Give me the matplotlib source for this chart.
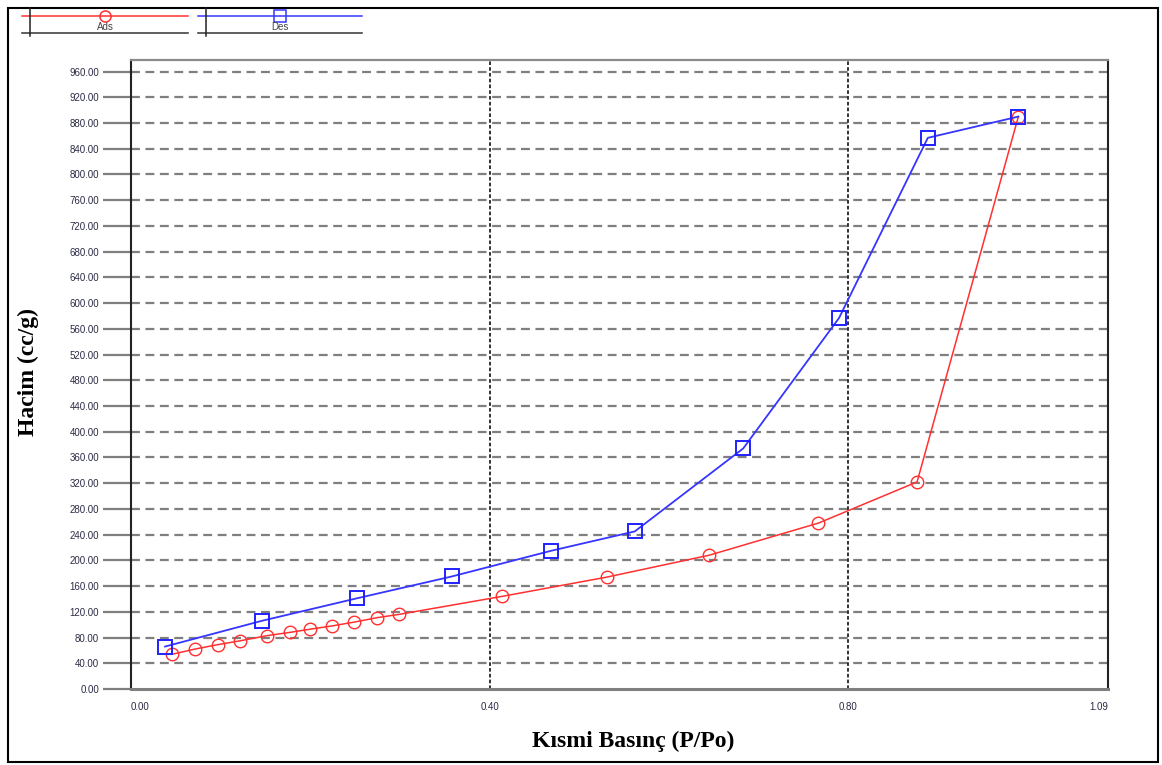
import matplotlib
matplotlib.use("Agg")
import matplotlib.pyplot as plt
from matplotlib.patches import Rectangle
from matplotlib.lines import Line2D

# adsorption branch (red circles)
ads_p = [0.046, 0.071, 0.097, 0.122, 0.152, 0.177, 0.200, 0.224, 0.249, 0.275, 0.299,
         0.414, 0.531, 0.645, 0.767, 0.877, 0.990]
ads_v = [54, 62, 69, 75, 83, 88, 93, 98, 104, 111, 116,
         144, 174, 208, 258, 322, 890]

# desorption branch (blue squares)
des_p = [0.038, 0.146, 0.252, 0.358, 0.469, 0.562, 0.683, 0.790, 0.889, 0.990]
des_v = [66, 106, 141, 175, 215, 245, 374, 577, 857, 890]

y_ticks = list(range(0, 961, 40))
x_ticks = [0.0, 0.40, 0.80, 1.09]
x_tick_labels = ["0.00", "0.40", "0.80", "1.09"]

W, H = 1162, 765
fig = plt.figure(figsize=(W / 100, H / 100), dpi=100)
ax = fig.add_axes([131 / W, 1 - 689 / H, (1108 - 131) / W, (689 - 60) / H])

ax.set_xlim(0, 1.09)
ax.set_ylim(0, 978)

# grid
for v in y_ticks[1:]:
    ax.axhline(v, color="#7f7f7f", lw=1.6, ls=(0, (4, 2.5)), zorder=1)
for p in [0.40, 0.80]:
    ax.axvline(p, color="#222222", lw=1.3, ls=(0, (2, 1.2)), zorder=1)

ax.plot(ads_p, ads_v, color="#ff3030", lw=1.1, marker="o", ms=9,
        mfc="none", mec="#ff3030", mew=1.0, zorder=3)
ax.plot(des_p, des_v, color="#3535ff", lw=1.3, marker="s", ms=9.5,
        mfc="none", mec="#2020ff", mew=1.4, zorder=4)

ax.set_yticks(y_ticks)
ax.set_yticklabels([f"{v:.2f}" for v in y_ticks])
ax.tick_params(axis="y", direction="out", length=20, width=1.6, color="#7f7f7f",
               pad=3, labelsize=7, labelcolor="#2b2b45")
ax.set_xticks(x_ticks)
xl = ax.set_xticklabels(x_tick_labels)
ax.tick_params(axis="x", length=0, pad=9, labelsize=7, labelcolor="#2b2b45")
xl[0].set_ha("left")
xl[-1].set_ha("right")
for t in ax.get_yticklabels() + ax.get_xticklabels():
    t.set_fontfamily("Liberation Sans")

ax.spines["left"].set_color("#222222")
ax.spines["left"].set_linewidth(1.5)
ax.spines["right"].set_color("#222222")
ax.spines["right"].set_linewidth(1.5)
ax.spines["top"].set_color("#8a8a8a")
ax.spines["top"].set_linewidth(1.6)
ax.spines["bottom"].set_color("#7f7f7f")
ax.spines["bottom"].set_linewidth(2.2)

ax.set_xlabel("Kısmi Basınç (P/Po)", fontfamily="Liberation Serif",
              fontweight="bold", fontsize=17)
ax.xaxis.set_label_coords((633 - 131) / 977, (689 - 731) / 629)
ax.set_ylabel("Hacim (cc/g)", fontfamily="Liberation Serif",
              fontweight="bold", fontsize=17)
ax.yaxis.set_label_coords((39 - 131) / 977, (689 - 372) / 629)

# legend strip at the top left
def legend_entry(x0, x1, color, marker, label):
    fx0, fx1 = x0 / W, x1 / W
    fig.add_artist(Line2D([fx0, fx1], [1 - 16 / H] * 2, color=color, lw=1.1))
    fig.add_artist(Line2D([(fx0 + fx1) / 2], [1 - 16 / H], color=color, marker=marker,
                          ms=8, mfc="none", mec=color, mew=1.1))
    fig.add_artist(Line2D([fx0, fx1], [1 - 33 / H] * 2, color="#333333", lw=1.1))
    fig.add_artist(Line2D([(x0 + 8) / W] * 2, [1 - 8 / H, 1 - 36 / H], color="#222222", lw=1.1))
    fig.text((fx0 + fx1) / 2, 1 - 27 / H, label, ha="center", va="center",
             fontsize=7, color="#444444", fontfamily="Liberation Sans")

legend_entry(22, 188, "#ff3030", "o", "Ads")
legend_entry(198, 362, "#3535ff", "s", "Des")

# outer frame
fig.add_artist(Rectangle((8 / W, 3 / H), (1158 - 8) / W, (757 - 3) / H,
                         transform=fig.transFigure, fill=False, ec="black", lw=1.5))

fig.savefig("out.png", dpi=100)
